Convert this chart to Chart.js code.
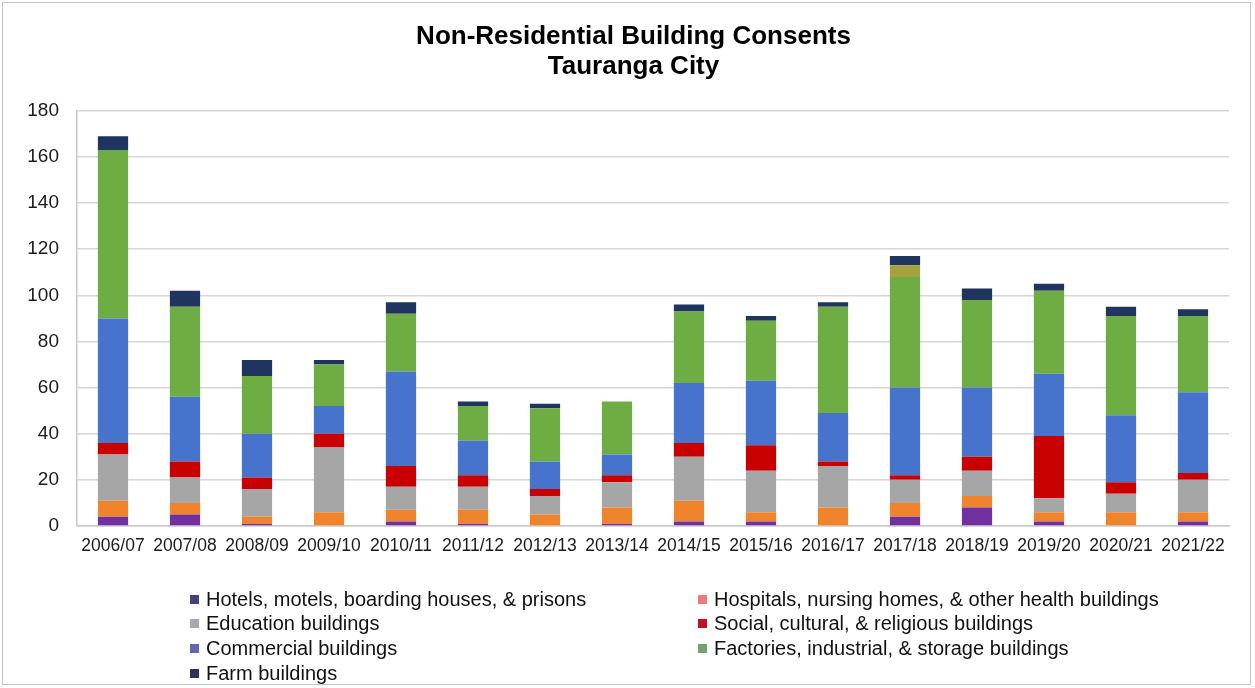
<!DOCTYPE html>
<html>
<head>
<meta charset="utf-8">
<title>Non-Residential Building Consents - Tauranga City</title>
<script src="https://cdn.jsdelivr.net/npm/chart.js@4"></script>
<style>
  html, body { margin: 0; padding: 0; background: #ffffff; }
  #wrap { width: 1255px; height: 688px; position: relative; }
</style>
</head>
<body>
<div id="wrap"><canvas id="chart"></canvas></div>
<script>
// Financial years
const years = ['2006/07','2007/08','2008/09','2009/10','2010/11','2011/12','2012/13','2013/14',
               '2014/15','2015/16','2016/17','2017/18','2018/19','2019/20','2020/21','2021/22'];

// Consents per building type (count)
const hotels     = [4, 5, 1, 0, 2, 1, 0, 1, 2, 2, 0, 4, 8, 2, 0, 2];
const hospitals  = [7, 5, 3, 6, 5, 6, 5, 7, 9, 4, 8, 6, 5, 4, 6, 4];
const education  = [20, 11, 12, 28, 10, 10, 8, 11, 19, 18, 18, 10, 11, 6, 8, 14];
const social     = [5, 7, 5, 6, 9, 5, 3, 3, 6, 11, 2, 2, 6, 27, 5, 3];
const commercial = [54, 28, 19, 12, 41, 15, 12, 9, 26, 28, 21, 38, 30, 27, 29, 35];
const factories  = [73, 39, 25, 18, 25, 15, 23, 23, 31, 26, 46, 48, 38, 36, 43, 33];
const otherTypes = [0, 0, 0, 0, 0, 0, 0, 0, 0, 0, 0, 5, 0, 0, 0, 0];
const farm       = [6, 7, 7, 2, 5, 2, 2, 0, 3, 2, 2, 4, 5, 3, 4, 3];

// Y axis ticks
const yTicks = [0, 20, 40, 60, 80, 100, 120, 140, 160, 180];

const FONT = "'Liberation Sans', Arial, Helvetica, sans-serif";

const series = [
  { label: 'Hotels, motels, boarding houses, & prisons', data: hotels, color: '#7030A0', key: '#424280' },
  { label: 'Hospitals, nursing homes, & other health buildings', data: hospitals, color: '#F0842C', key: '#EE7A7A' },
  { label: 'Education buildings', data: education, color: '#A6A6A6', key: '#A8A8B4' },
  { label: 'Social, cultural, & religious buildings', data: social, color: '#C80000', key: '#C0102C' },
  { label: 'Commercial buildings', data: commercial, color: '#4674CC', key: '#6464B0' },
  { label: 'Factories, industrial, & storage buildings', data: factories, color: '#6EAD44', key: '#72A072' },
  { label: 'Other buildings', data: otherTypes, color: '#A3A23E', key: null },
  { label: 'Farm buildings', data: farm, color: '#1F3560', key: '#303254' }
];

// Legend rows: two columns, filled row by row
const legendOrder = [0, 1, 2, 3, 4, 5, 7];

const legendPlugin = {
  id: 'gridLegend',
  afterDraw(chart) {
    const c = chart.ctx;
    const colX = [190, 698];
    const rowY = [599, 623, 648, 673];
    c.save();
    c.font = '20px ' + FONT;
    c.textBaseline = 'middle';
    c.textAlign = 'left';
    legendOrder.forEach((si, i) => {
      const s = series[si];
      const x = colX[i % 2];
      const y = rowY[Math.floor(i / 2)];
      c.fillStyle = s.key;
      c.fillRect(x, y - 4, 9, 9);
      c.fillStyle = '#111111';
      c.fillText(s.label, x + 16, y + 1);
    });
    c.restore();
  }
};

// White background, outer frame, and a title centred a little right of the canvas middle
const framePlugin = {
  id: 'frame',
  afterLayout(chart) {
    if (chart.titleBlock) chart.titleBlock.left = 38;
  },
  beforeDraw(chart) {
    const c = chart.ctx;
    c.save();
    c.fillStyle = '#ffffff';
    c.fillRect(0, 0, chart.width, chart.height);
    c.restore();
  },
  afterDraw(chart) {
    const c = chart.ctx;
    c.save();
    c.strokeStyle = '#c4c4c4';
    c.lineWidth = 1;
    c.strokeRect(2.5, 2.5, 1248, 682);
    c.restore();
  }
};

new Chart(document.getElementById('chart'), {
  type: 'bar',
  data: {
    labels: years,
    datasets: series.map(s => ({
      label: s.label,
      data: s.data,
      backgroundColor: s.color,
      borderWidth: 0,
      categoryPercentage: 1.0,
      barPercentage: 0.42
    }))
  },
  options: {
    responsive: true,
    maintainAspectRatio: false,
    animation: false,
    layout: { padding: { left: 0, right: 26, top: 0, bottom: 0 } },
    plugins: {
      legend: { display: false },
      tooltip: { enabled: false },
      title: {
        display: true,
        text: ['Non-Residential Building Consents', 'Tauranga City'],
        color: '#000000',
        font: { family: FONT, size: 26, weight: 'bold', lineHeight: 1.15 },
        padding: { top: 22, bottom: 29 }
      }
    },
    scales: {
      x: {
        stacked: true,
        grid: { display: false, drawTicks: false },
        border: { display: true, color: '#c8c8c8', width: 1.5 },
        ticks: {
          color: '#1a1a1a',
          padding: 10,
          maxRotation: 0,
          autoSkip: false,
          font: { family: FONT, size: 17.5 }
        },
        afterFit(scale) { scale.height = 162; }
      },
      y: {
        stacked: true,
        min: 0,
        max: 180,
        grid: { color: '#d6d6d6', lineWidth: 1.5, drawTicks: false },
        border: { display: true, color: '#c8c8c8', width: 1.5 },
        afterBuildTicks(scale) { scale.ticks = yTicks.map(v => ({ value: v })); },
        ticks: {
          color: '#1a1a1a',
          padding: 18,
          font: { family: FONT, size: 19 }
        },
        afterFit(scale) { scale.width = 77; }
      }
    }
  },
  plugins: [framePlugin, legendPlugin]
});
</script>
</body>
</html>
